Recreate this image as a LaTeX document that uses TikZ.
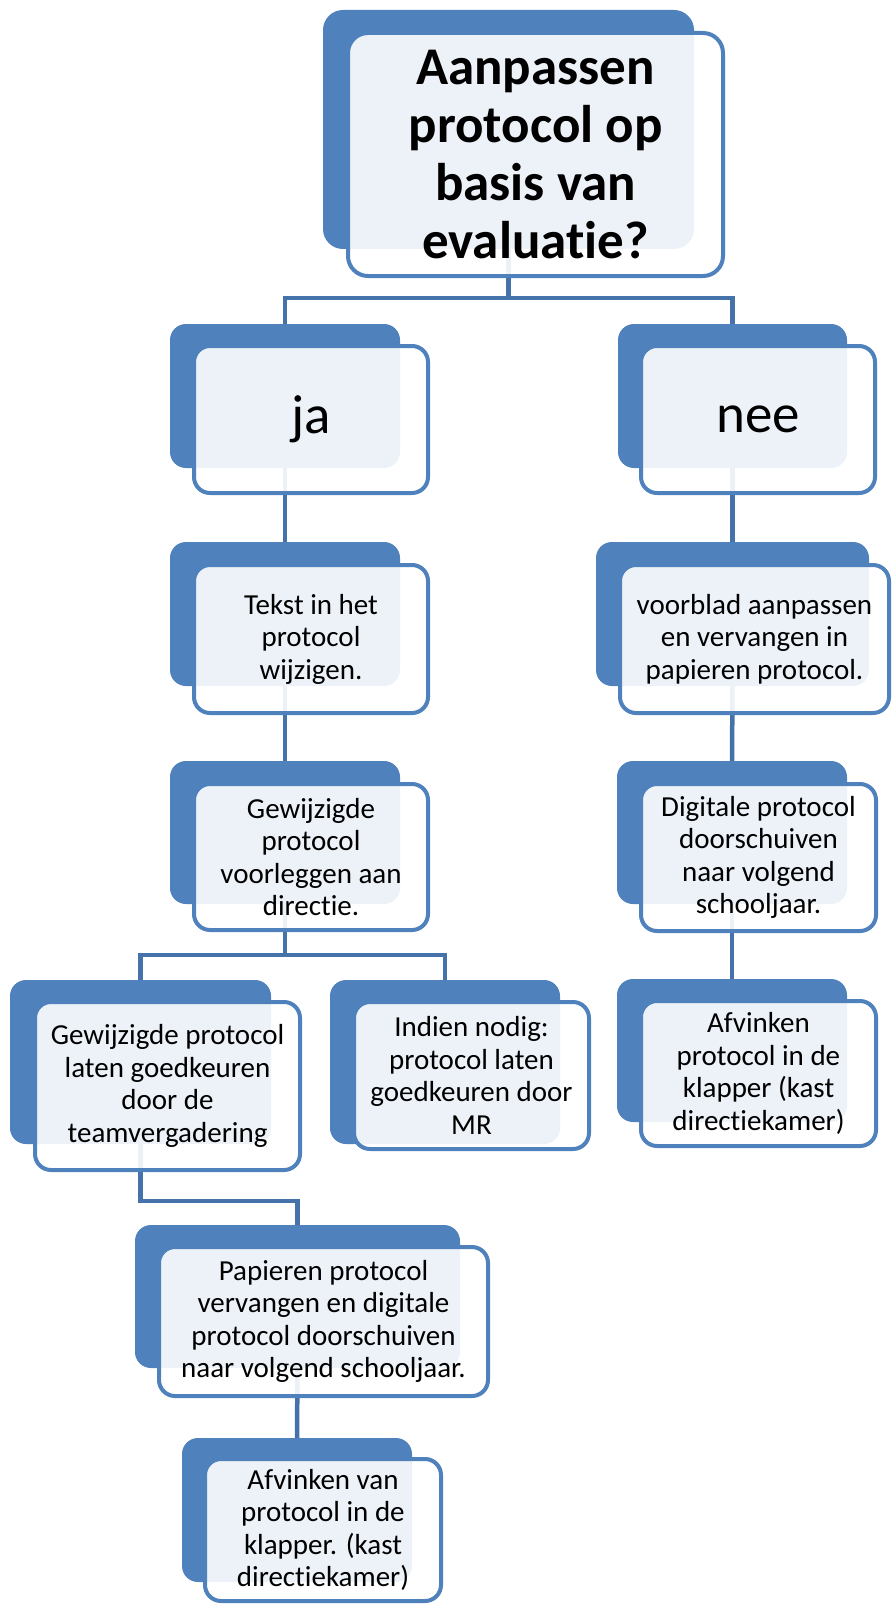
\documentclass[tikz,border=0pt]{standalone}
\usepackage{fontspec}
\setmainfont{Carlito}[Ligatures={NoCommon,NoRare,NoContextual}]
\usetikzlibrary{fit,backgrounds}
\definecolor{accent}{RGB}{79,129,189}
\definecolor{connc}{RGB}{69,114,168}
\tikzset{
  backbox/.style={fill=accent, draw=none, rounded corners=16pt, inner sep=0pt},
  frontbox/.style={fill=white, fill opacity=0.9, text opacity=1, draw=accent, draw opacity=1, line width=4pt, rounded corners=16pt, inner sep=0pt},
  txt/.style={align=center, inner sep=0pt, font=\fontsize{29}{32.5}\selectfont},
  midtxt/.style={align=center, inner sep=0pt, font=\fontsize{55}{62}\selectfont},
  bigtxt/.style={align=center, inner sep=0pt, font=\bfseries\fontsize{53}{58}\selectfont},
  conn/.style={draw=connc, line width=4.5pt}
}
\begin{document}
\begin{tikzpicture}[x=1pt,y=-1pt]
\useasboundingbox (0,0) rectangle (893,1605);
% top
\node[backbox, rounded corners=20pt, fit={(323,10)(694,249)}] (topB) {};
\node[frontbox, rounded corners=20pt, fit={(348,33)(723,276)}] (top) {};
\node[bigtxt] (topT) at (top) {Aanpassen\\protocol op\\basis van\\evaluatie?};
% ja
\node[backbox, fit={(170,324)(400,468)}] (jaB) {};
\node[frontbox, fit={(194,346)(428,493)}] (ja) {};
\node[midtxt] (jaT) at (ja) {ja};
% nee
\node[backbox, fit={(618,324)(847,468)}] (neeB) {};
\node[frontbox, fit={(641,346)(875,493)}] (nee) {};
\node[midtxt] (neeT) at (nee) {nee};
% tekst
\node[backbox, fit={(170,542)(400,686)}] (tekB) {};
\node[frontbox, fit={(194,565)(428,713)}] (tek) {};
\node[txt] (tekT) at (tek) {Tekst in het\\protocol\\wijzigen.};
% voorblad
\node[backbox, fit={(596,542)(869,686)}] (vbB) {};
\node[frontbox, fit={(620,565)(889,713)}] (vb) {};
\node[txt] (vbT) at (vb) {voorblad aanpassen\\en vervangen in\\papieren protocol.};
% voorleggen
\node[backbox, fit={(170,761)(400,904)}] (vlB) {};
\node[frontbox, fit={(194,784)(428,930)}] (vl) {};
\node[txt] (vlT) at (vl) {Gewijzigde\\protocol\\voorleggen aan\\directie.};
% digitale
\node[backbox, fit={(617,761)(847,904)}] (digB) {};
\node[frontbox, fit={(641,784)(876,931)}] (dig) {};
\node[txt] (digT) at (dig) {Digitale protocol\\doorschuiven\\naar volgend\\schooljaar.};
% left child
\node[backbox, fit={(10,980)(271,1144)}] (lchB) {};
\node[frontbox, fit={(35,1002)(300,1170)}] (lch) {};
\node[txt] (lchT) at (lch) {Gewijzigde protocol\\laten goedkeuren\\door de\\teamvergadering};
% MR
\node[backbox, fit={(330,980)(560,1144)}] (mrB) {};
\node[frontbox, fit={(354,1002)(589,1149)}] (mr) {};
\node[txt] (mrT) at (mr) {Indien nodig:\\protocol laten\\goedkeuren door\\MR};
% afvinken right
\node[backbox, fit={(617,979)(847,1122)}] (afrB) {};
\node[frontbox, fit={(641,1001)(876,1146)}] (afr) {};
\node[txt] (afrT) at (afr) {Afvinken\\protocol in de\\klapper (kast\\directiekamer)};
% papieren
\node[backbox, fit={(135,1225)(460,1368)}] (papB) {};
\node[frontbox, fit={(159,1247)(488,1396)}] (pap) {};
\node[txt] (papT) at (pap) {Papieren protocol\\vervangen en digitale\\protocol doorschuiven\\naar volgend schooljaar.};
% afvinken bottom
\node[backbox, fit={(182,1438)(412,1582)}] (afbB) {};
\node[frontbox, fit={(205,1459)(441,1601)}] (afb) {};
\node[txt] (afbT) at (afb) {Afvinken van\\protocol in de\\klapper. (kast\\directiekamer)};
% connectors
\begin{scope}[on background layer]
\fill[white] (0,0) rectangle (893,1605);
\coordinate (h1) at (509,298);
\coordinate (h2) at (285,955);
\coordinate (h3) at (141,1201);
\draw[conn] (topB.south) -- (topB.south |- h1);
\draw[conn] (jaB.north) |- (h1) -| (neeB.north);
\draw[conn] (jaB.south) -- (tekB.north);
\draw[conn] (tekB.south) -- (vlB.north);
\draw[conn] (neeB.south) -- (vbB.north);
\draw[conn] (vbB.south) -- (digB.north);
\draw[conn] (digB.south) -- (afrB.north);
\draw[conn] (vlB.south) -- (vlB.south |- h2);
\draw[conn] (lchB.north) |- (h2) -| (mrB.north);
\draw[conn] (lchB.south) -- (lchB.south |- h3) -| (papB.north);
\draw[conn] (papB.south) -- (afbB.north);
\end{scope}
\end{tikzpicture}
\end{document}
